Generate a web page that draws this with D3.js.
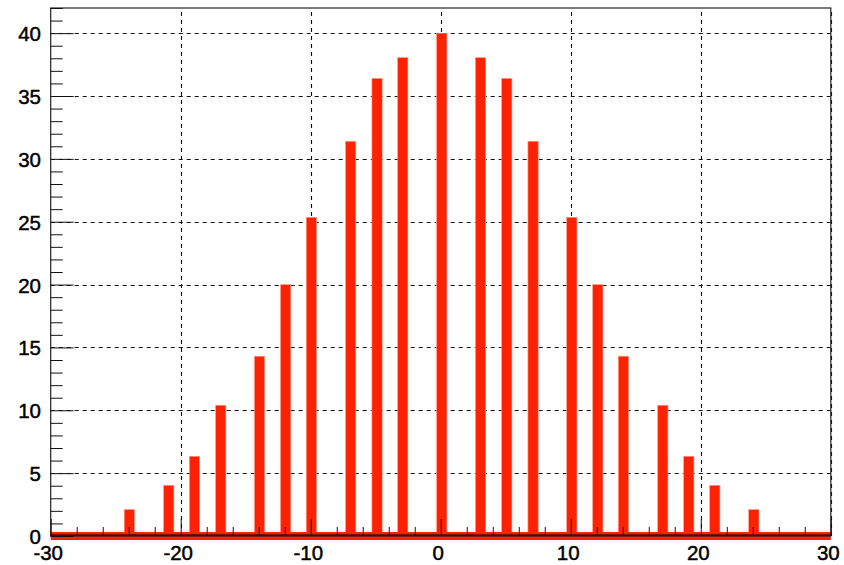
<!DOCTYPE html>
<html>
<head>
<meta charset="utf-8">
<script src="https://cdn.jsdelivr.net/npm/d3@7"></script>
<style>
  body { margin: 0; background: #fff; }
  svg { display: block; }
  text { font-family: "Liberation Sans", Arial, sans-serif; font-size: 20.5px; fill: #000; stroke: #000; stroke-width: 0.45px; }
</style>
</head>
<body>
<svg width="844" height="565"></svg>
<script>
// bar centres and heights
const binCenters = [-23.95, -20.92, -18.94, -16.92, -13.94, -11.93, -9.95, -6.93, -4.9, -2.92,
                    0.08, 3.06, 5.08, 7.1, 10.08, 12.08, 14.05, 17.08, 19.08, 21.08, 24.08];
const binValues  = [2.1, 4.03, 6.34, 10.4, 14.3, 20.0, 25.35, 31.4, 36.4, 38.05,
                    40.0, 38.05, 36.4, 31.4, 25.35, 20.0, 14.3, 10.4, 6.34, 4.03, 2.1];
const xTicks = [-30, -20, -10, 0, 10, 20, 30];
const yTicks = [0, 5, 10, 15, 20, 25, 30, 35, 40];

const svg = d3.select("svg");
const padL = 50.7, padR = 830.8, padT = 8, padB = 536;

const x = d3.scaleLinear().domain([-30, 30]).range([padL, padR]);
const y = d3.scaleLinear().domain([0, 42]).range([padB, padT]);

const barW = 0.79; // in x units
const red = "#ff2200";

// grid
const grid = svg.append("g")
    .attr("stroke", "#111")
    .attr("stroke-width", 1.1)
    .attr("stroke-dasharray", "4,4");

grid.selectAll(".gx")
    .data(xTicks.filter(d => d > -30))
    .join("line")
    .attr("x1", d => Math.round(x(d)) + 0.5)
    .attr("x2", d => Math.round(x(d)) + 0.5)
    .attr("y1", y(0))
    .attr("y2", padT);

grid.selectAll(".gy")
    .data(yTicks.filter(d => d > 0))
    .join("line")
    .attr("y1", d => Math.round(y(d)) + 0.5)
    .attr("y2", d => Math.round(y(d)) + 0.5)
    .attr("x1", padL)
    .attr("x2", padR);

// bars
svg.append("g").selectAll("rect")
    .data(binCenters)
    .join("rect")
    .attr("x", d => x(d - barW / 2))
    .attr("width", x(barW) - x(0))
    .attr("y", (d, i) => y(binValues[i]))
    .attr("height", (d, i) => y(0) - y(binValues[i]))
    .attr("fill", red)
    .attr("stroke", "#ff9c8c")
    .attr("stroke-width", 0.6);

// empty bins baseline band
svg.append("rect")
    .attr("x", x(-30))
    .attr("width", x(30) - x(-30))
    .attr("y", y(0) - 4)
    .attr("height", 8)
    .attr("fill", red);

// frame
svg.append("rect")
    .attr("x", padL)
    .attr("y", padT)
    .attr("width", padR - padL)
    .attr("height", padB - padT)
    .attr("fill", "none")
    .attr("stroke", "#222")
    .attr("stroke-width", 1.2);

// y axis with ROOT-like ticks
const yAxis = d3.axisRight(y)
    .tickValues(d3.range(0, 43, 1))
    .tickSize(0)
    .tickFormat("");
const ya = svg.append("g").attr("transform", `translate(${padL},0)`).call(yAxis);
ya.select(".domain").remove();
ya.selectAll(".tick line")
    .attr("x2", d => d % 5 === 0 ? 23 : 12)
    .attr("stroke", "#111");

svg.append("g").selectAll("text")
    .data(yTicks)
    .join("text")
    .attr("x", 41)
    .attr("y", d => y(d) + 8)
    .attr("text-anchor", "end")
    .text(d => d);

// x axis
const xAxis = d3.axisTop(x)
    .tickValues(d3.range(-30, 31, 2))
    .tickSize(0)
    .tickFormat("");
const xa = svg.append("g").attr("transform", `translate(0,${padB - 1})`).call(xAxis);
xa.select(".domain").remove();
xa.selectAll(".tick line")
    .attr("y2", d => d % 10 === 0 ? -16 : -8)
    .attr("stroke", "#111");

svg.append("line")
    .attr("x1", padL).attr("x2", padR)
    .attr("y1", padB - 1).attr("y2", padB - 1)
    .attr("stroke", "#000")
    .attr("stroke-width", 1.2);

svg.append("g").selectAll("text")
    .data(xTicks)
    .join("text")
    .attr("x", d => x(d) - 2.5)
    .attr("y", 560)
    .attr("text-anchor", "middle")
    .text(d => d);
</script>
</body>
</html>
